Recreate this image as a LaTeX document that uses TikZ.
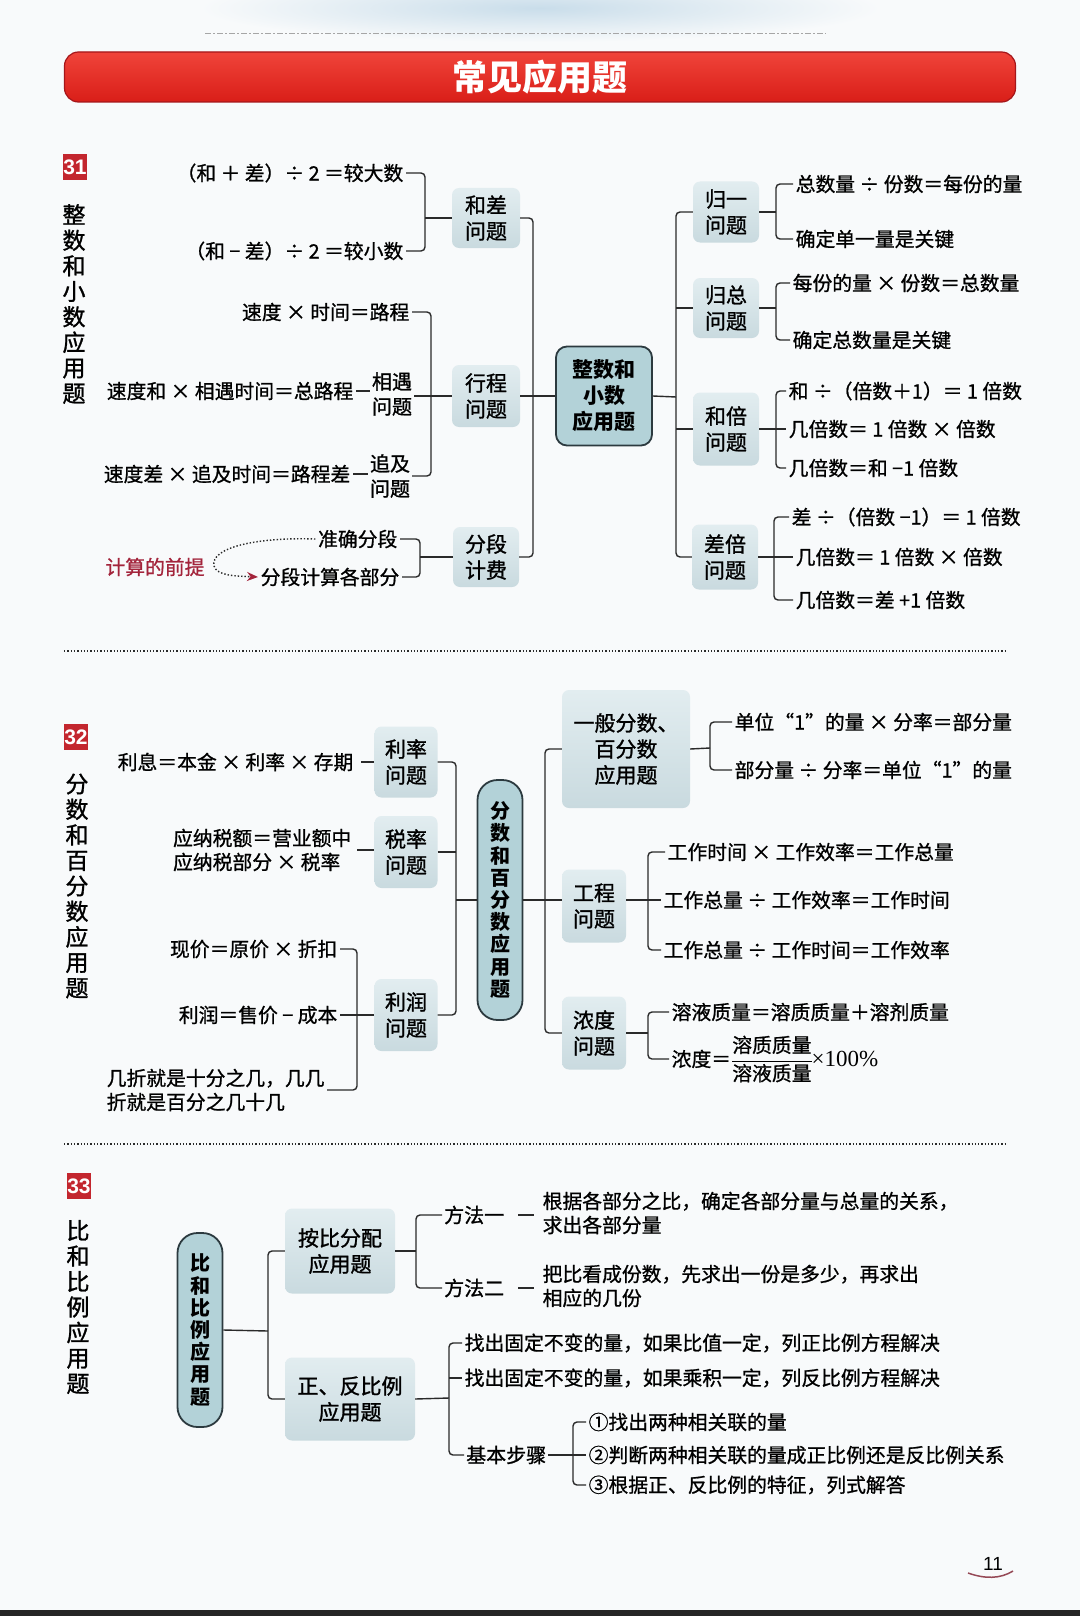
\documentclass[tikz,border=0pt]{standalone}
\usepackage{fontspec}
\setmainfont{Noto Sans CJK SC}
\newfontfamily\serifnum{Liberation Serif}
\newfontfamily\latinsans{Liberation Sans}
\newfontfamily\heavycjk{Noto Sans CJK SC}[FakeBold=1.2]
\newfontfamily\kaicjk{Noto Sans CJK SC}[FakeBold=0.9]
\usetikzlibrary{arrows.meta}
\definecolor{linec}{HTML}{2A2A2A}
\definecolor{boxtop}{HTML}{E2EDF0}
\definecolor{boxbot}{HTML}{C9DADF}
\definecolor{cfill}{HTML}{B3D2D8}
\definecolor{cdraw}{HTML}{2C3A3F}
\definecolor{redA}{HTML}{F0443A}
\definecolor{redB}{HTML}{D91E18}
\definecolor{redC}{HTML}{A5161A}
\definecolor{markred}{HTML}{C3262E}
\definecolor{premise}{HTML}{A3243B}
\definecolor{bgc}{HTML}{F8FAFB}
\definecolor{smudge}{HTML}{C9DDEA}
\tikzset{
  conn/.style={draw=linec, line width=1.4pt, rounded corners=4pt},
  ftext/.style={inner sep=2.5pt, font=\kaicjk\fontsize{19.8}{24}\selectfont, align=left},
  stext/.style={inner sep=2pt, font=\heavycjk\fontsize{20}{25}\selectfont, align=center},
  sbox/.style={rounded corners=7pt, top color=boxtop, bottom color=boxbot, draw=none, inner sep=0pt, align=center, font=\heavycjk\fontsize{21}{26}\selectfont},
  cbox/.style={rounded corners=11pt, fill=cfill, draw=cdraw, line width=1.8pt, inner sep=0pt, align=center, font=\bfseries\fontsize{21}{26}\selectfont},
  vbox/.style={rounded corners=20pt, fill=cfill, draw=cdraw, line width=1.8pt, inner sep=0pt, align=center, font=\bfseries\fontsize{20}{22.2}\selectfont},
  marker/.style={fill=markred, text=white, font=\latinsans\bfseries\fontsize{21}{21}\selectfont, minimum width=24pt, minimum height=26pt, inner sep=0pt},
  vtitle/.style={align=center, inner sep=0pt, font=\heavycjk\fontsize{23}{25.5}\selectfont},
  sepline/.style={draw=linec, line width=1.3pt, dotted},
  titlebar/.style={rounded corners=14pt, top color=redA, bottom color=redB, draw=redC, line width=1.2pt, text=white, minimum width=951pt, minimum height=50pt, font=\bfseries\fontsize{35}{35}\selectfont}
}
\begin{document}
\begin{tikzpicture}[x=1pt,y=-1pt]
\useasboundingbox (0,0) rectangle (1080,1616);
\fill[bgc] (0,0) rectangle (1080,1616);
\shade[inner color=smudge, outer color=bgc] (540,8) ellipse (340pt and 34pt);
\draw[gray!70, line width=1pt, dash pattern=on 6pt off 2pt on 2pt off 2pt] (205,34) -- (826,34);
\fill[black!85] (0,1610) rectangle (1080,1616);

% title
\node[titlebar] (title) at (540,77) {常见应用题};

% markers and section titles
\node[marker] (m31) at (75,167) {31};
\node[marker] (m32) at (76,737) {32};
\node[marker] (m33) at (79,1186) {33};
\node[vtitle] (t31) at (74,304) {整\\数\\和\\小\\数\\应\\用\\题};
\node[vtitle] (t32) at (77,886) {分\\数\\和\\百\\分\\数\\应\\用\\题};
\node[vtitle] (t33) at (78,1307) {比\\和\\比\\例\\应\\用\\题};

%================ section 31
\node[cbox, minimum width=96pt, minimum height=99pt] (zb) at (604,396) {整数和\\小数\\应用题};
\node[sbox, minimum width=68pt, minimum height=60pt] (hcbox) at (486,218) {和差\\问题};
\node[sbox, minimum width=68pt, minimum height=62pt] (xcbox) at (486,396) {行程\\问题};
\node[sbox, minimum width=66pt, minimum height=60pt] (fdbox) at (486,557) {分段\\计费};
\coordinate (L1) at (533,396);
\draw[conn] (hcbox.east) -| (L1) |- (fdbox.east);
\draw[conn] (xcbox.east) -- (zb.west);

\node[ftext, anchor=east] (hc1) at (406,173) {（和 ＋ 差）÷ 2 ＝较大数};
\node[ftext, anchor=east] (hc2) at (406,251) {（和 − 差）÷ 2 ＝较小数};
\coordinate (HCJ) at (425,218);
\draw[conn] (hc1.east) -| (HCJ) |- (hc2.east);
\draw[conn] (HCJ) -- (hcbox.west);

\node[ftext, anchor=east] (sd1) at (412,312) {速度 × 时间＝路程};
\node[stext] (xy) at (392,394) {相遇\\问题};
\node[ftext, anchor=east] (sd2) at (356,391) {速度和 × 相遇时间＝总路程};
\node[stext] (zj) at (390,476) {追及\\问题};
\node[ftext, anchor=east] (sd3) at (353,474) {速度差 × 追及时间＝路程差};
\coordinate (XCJ) at (431,396);
\draw[conn] (sd1.east) -| (XCJ) |- (zj.east);
\draw[conn] (xy.east |- xcbox.west) -- (xcbox.west);
\draw[conn] (sd2.east) -- (sd2.east -| xy.west);
\draw[conn] (sd3.east) -- (sd3.east -| zj.west);

\node[ftext, anchor=east] (zq) at (400,539) {准确分段};
\node[ftext, anchor=east] (fj) at (402,577) {分段计算各部分};
\coordinate (FDJ) at (420,557);
\draw[conn] (zq.east) -| (FDJ) |- (fj.east);
\draw[conn] (FDJ) -- (fdbox.west);
\node[ftext, text=premise] (qt) at (155,567) {计算的前提};
\draw[draw=linec, line width=1.4pt, dotted, -{Stealth[length=11pt,width=9pt,color=premise]}]
  (zq.west) .. controls (255,537) and (210,548) .. (214,566) .. controls (217,576) and (236,576) .. (fj.west);

\coordinate (R1) at (676,397);
\node[sbox, minimum width=66pt, minimum height=61pt] (gybox) at (726,212) {归一\\问题};
\node[sbox, minimum width=66pt, minimum height=60pt] (gzbox) at (726,308) {归总\\问题};
\node[sbox, minimum width=66pt, minimum height=73pt] (hbbox) at (726,429) {和倍\\问题};
\node[sbox, minimum width=66pt, minimum height=65pt] (cbbox) at (725,557) {差倍\\问题};
\draw[conn] (zb.east) -- (R1);
\draw[conn] (gybox.west) -| (R1) |- (cbbox.west);
\draw[conn] (gzbox.west) -- (gzbox.west -| R1);
\draw[conn] (hbbox.west) -- (hbbox.west -| R1);

\node[ftext, anchor=west] (gy1) at (793,184) {总数量 ÷ 份数＝每份的量};
\node[ftext, anchor=west] (gy2) at (793,239) {确定单一量是关键};
\coordinate (GYJ) at (776,212);
\draw[conn] (gy1.west) -| (GYJ) |- (gy2.west);
\draw[conn] (gybox.east) -- (GYJ);

\node[ftext, anchor=west] (gz1) at (790,283) {每份的量 × 份数＝总数量};
\node[ftext, anchor=west] (gz2) at (790,340) {确定总数量是关键};
\coordinate (GZJ) at (776,308);
\draw[conn] (gz1.west) -| (GZJ) |- (gz2.west);
\draw[conn] (gzbox.east) -- (GZJ);

\node[ftext, anchor=west] (hb1) at (786,391) {和 ÷（倍数＋1）＝ 1 倍数};
\node[ftext, anchor=west] (hb2) at (786,429) {几倍数＝ 1 倍数 × 倍数};
\node[ftext, anchor=west] (hb3) at (786,468) {几倍数＝和 −1 倍数};
\coordinate (HBJ) at (776,429);
\draw[conn] (hb1.west) -| (HBJ) |- (hb3.west);
\draw[conn] (hbbox.east) -- (hb2.west);

\node[ftext, anchor=west] (cb1) at (789,517) {差 ÷（倍数 −1）＝ 1 倍数};
\node[ftext, anchor=west] (cb2) at (793,557) {几倍数＝ 1 倍数 × 倍数};
\node[ftext, anchor=west] (cb3) at (793,600) {几倍数＝差 +1 倍数};
\coordinate (CBJ) at (774,557);
\draw[conn] (cb1.west) -| (CBJ) |- (cb3.west);
\draw[conn] (cbbox.east) -- (cb2.west);

\draw[sepline] (64,651) -- (1007,651);

%================ section 32
\node[vbox, minimum width=45pt, minimum height=240pt] (fb) at (500,900) {分\\数\\和\\百\\分\\数\\应\\用\\题};
\coordinate (L2) at (456,900);
\node[sbox, minimum width=63pt, minimum height=71pt] (llbox) at (406,762) {利率\\问题};
\node[sbox, minimum width=63pt, minimum height=72pt] (slbox) at (406,852) {税率\\问题};
\node[sbox, minimum width=63pt, minimum height=72pt] (lrbox) at (406,1015) {利润\\问题};
\draw[conn] (llbox.east) -| (L2) |- (lrbox.east);
\draw[conn] (slbox.east) -- (slbox.east -| L2);
\draw[conn] (fb.west) -- (L2);

\node[ftext, anchor=east] (lx) at (356,762) {利息＝本金 × 利率 × 存期};
\draw[conn, shorten <=5pt] (lx.east) -- (llbox.west);
\node[ftext, anchor=east] (sx) at (354,850) {应纳税额＝营业额中\\应纳税部分 × 税率};
\draw[conn, shorten <=3pt] (sx.east) -- (sx.east -| slbox.west);
\node[ftext, anchor=east] (lr1) at (340,949) {现价＝原价 × 折扣};
\node[ftext, anchor=east] (lr2) at (340,1015) {利润＝售价 − 成本};
\node[ftext, anchor=west] (lr3) at (104,1090) {几折就是十分之几，几几\\折就是百分之几十几};
\coordinate (LRJ) at (357,1015);
\draw[conn] (lr1.east) -| (LRJ) |- (lr3.east);
\draw[conn] (lr2.east) -- (lrbox.west);

\coordinate (R2) at (545,900);
\node[sbox, minimum width=128pt, minimum height=118pt] (ybbox) at (626,749) {一般分数、\\百分数\\应用题};
\node[sbox, minimum width=64pt, minimum height=73pt] (gcbox) at (594,906) {工程\\问题};
\node[sbox, minimum width=64pt, minimum height=73pt] (ndbox) at (594,1033) {浓度\\问题};
\draw[conn] (fb.east) -- (R2 -| gcbox.west);
\draw[conn] (ybbox.west) -| (R2) |- (ndbox.west);

\node[ftext, anchor=west] (yb1) at (732,722) {单位“1”的量 × 分率＝部分量};
\node[ftext, anchor=west] (yb2) at (732,770) {部分量 ÷ 分率＝单位“1”的量};
\coordinate (YBJ) at (710,748);
\draw[conn] (yb1.west) -| (YBJ) |- (yb2.west);
\draw[conn] (ybbox.east) -- (YBJ);

\node[ftext, anchor=west] (gc1) at (665,852) {工作时间 × 工作效率＝工作总量};
\node[ftext, anchor=west] (gc2) at (661,900) {工作总量 ÷ 工作效率＝工作时间};
\node[ftext, anchor=west] (gc3) at (661,950) {工作总量 ÷ 工作时间＝工作效率};
\coordinate (GCJ) at (648,900);
\draw[conn] (gc1.west) -| (GCJ) |- (gc3.west);
\draw[conn] (gcbox.east |- GCJ) -- (gc2.west);

\node[ftext, anchor=west] (nd1) at (669,1012) {溶液质量＝溶质质量＋溶剂质量};
\node[ftext, anchor=west] (nd2) at (669,1059) {浓度＝${\displaystyle\frac{\mbox{溶质质量}}{\mbox{溶液质量}}}$\kern-1pt{\serifnum\fontsize{23}{24}\selectfont ×100\%}};
\coordinate (NDJ) at (648,1033);
\draw[conn] (nd1.west) -| (NDJ) |- (nd2.west);
\draw[conn] (ndbox.east) -- (NDJ);

\draw[sepline] (64,1144) -- (1007,1144);

%================ section 33
\node[vbox, minimum width=45pt, minimum height=194pt] (bb) at (200,1330) {比\\和\\比\\例\\应\\用\\题};
\coordinate (L3) at (268,1331);
\node[sbox, minimum width=110pt, minimum height=85pt] (abbox) at (340,1251) {按比分配\\应用题};
\node[sbox, minimum width=130pt, minimum height=83pt] (zfbox) at (350,1399) {正、反比例\\应用题};
\draw[conn] (bb.east) -- (L3);
\draw[conn] (abbox.west) -| (L3) |- (zfbox.west);

\node[stext, anchor=west] (ff1) at (442,1215) {方法一};
\node[stext, anchor=west] (ff2) at (442,1288) {方法二};
\coordinate (ABJ) at (416,1251);
\draw[conn] (ff1.west) -| (ABJ) |- (ff2.west);
\draw[conn] (abbox.east) -- (ABJ);
\node[ftext, anchor=west] (ff1t) at (540,1213) {根据各部分之比，确定各部分量与总量的关系，\\求出各部分量};
\node[ftext, anchor=west] (ff2t) at (540,1286) {把比看成份数，先求出一份是多少，再求出\\相应的几份};
\draw[conn, shorten <=12pt, shorten >=6pt] (ff1.east) -- (ff1.east -| ff1t.west);
\draw[conn, shorten <=12pt, shorten >=6pt] (ff2.east) -- (ff2.east -| ff2t.west);

\node[ftext, anchor=west] (zf1) at (462,1343) {找出固定不变的量，如果比值一定，列正比例方程解决};
\node[ftext, anchor=west] (zf2) at (462,1378) {找出固定不变的量，如果乘积一定，列反比例方程解决};
\node[stext, anchor=west] (jb) at (464,1455) {基本步骤};
\coordinate (ZFJ) at (449,1398);
\draw[conn] (zf1.west) -| (ZFJ) |- (jb.west);
\draw[conn] (zf2.west) -- (zf2.west -| ZFJ);
\draw[conn] (zfbox.east) -- (ZFJ);

\node[ftext, anchor=west] (s1) at (586,1422) {①找出两种相关联的量};
\node[ftext, anchor=west] (s2) at (586,1455) {②判断两种相关联的量成正比例还是反比例关系};
\node[ftext, anchor=west] (s3) at (586,1485) {③根据正、反比例的特征，列式解答};
\coordinate (JBJ) at (573,1455);
\draw[conn] (s1.west) -| (JBJ) |- (s3.west);
\draw[conn] (jb.east) -- (s2.west);

% page number
\node[inner sep=0pt, font=\latinsans\fontsize{19}{19}\selectfont] (pg) at (993,1564) {11};
\draw[draw=premise!60!gray, line width=1.5pt] (968,1573) .. controls (985,1579) and (1000,1579) .. (1013,1571);
\end{tikzpicture}
\end{document}
